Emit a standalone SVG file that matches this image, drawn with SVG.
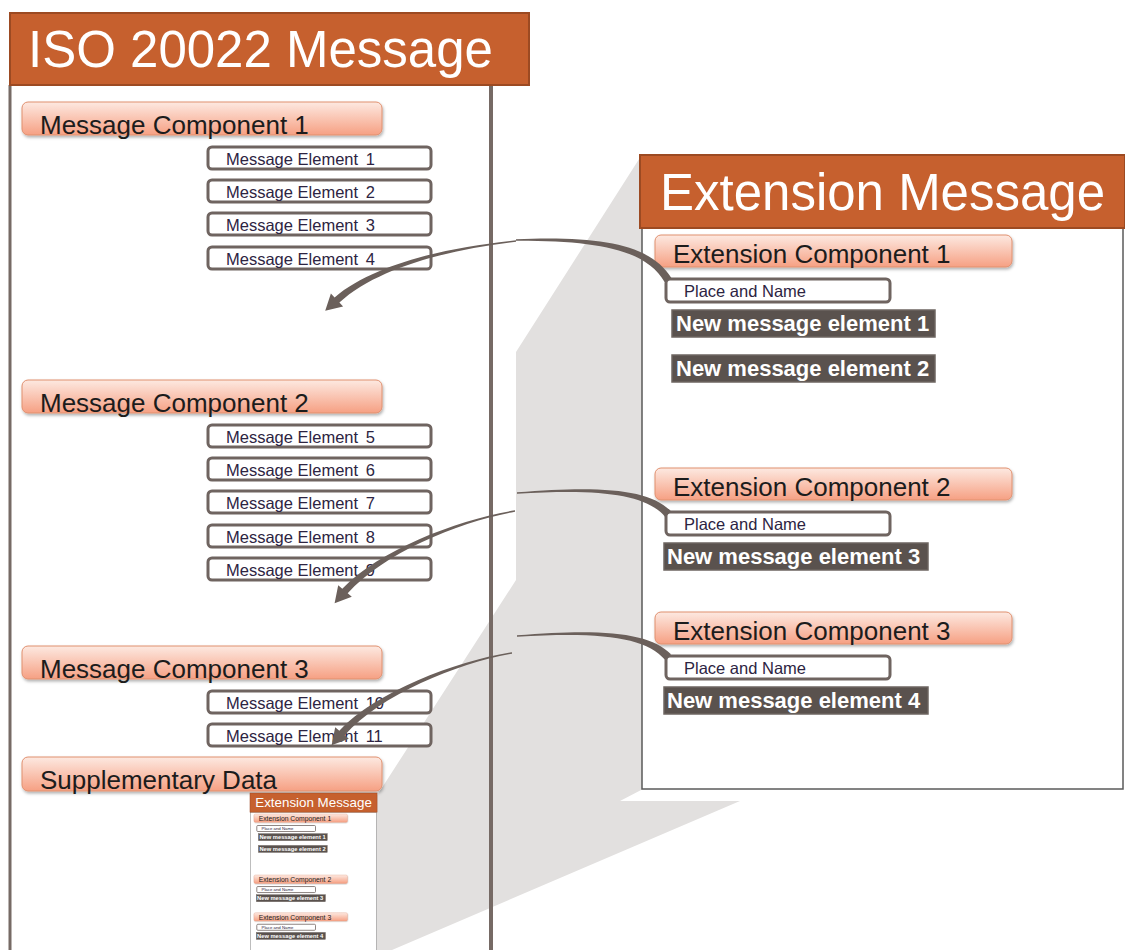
<svg xmlns="http://www.w3.org/2000/svg" xmlns:xlink="http://www.w3.org/1999/xlink" width="1125" height="950" viewBox="0 0 1125 950">
  <defs>
    <linearGradient id="compGrad" x1="0" y1="0" x2="0" y2="1">
      <stop offset="0" stop-color="#fde9e1"/>
      <stop offset="1" stop-color="#f6a083"/>
    </linearGradient>
    <filter id="shadow" x="-5%" y="-20%" width="110%" height="160%">
      <feDropShadow dx="1" dy="2" stdDeviation="1.5" flood-color="#000" flood-opacity="0.3"/>
    </filter>
    <style>
      .hdr { fill: #c6602e; stroke: #9c4a22; stroke-width: 2; }
      .hdrText { font-family: "Liberation Sans", Arial, sans-serif; font-size: 51px; fill: #ffffff; }
      .frame { stroke: #766a65; fill: none; }
      .comp { fill: url(#compGrad); stroke: #e0906f; stroke-width: 1; filter: url(#shadow); }
      .compText { font-family: "Liberation Sans", Arial, sans-serif; font-size: 26px; fill: #1c1c1c; }
      .elem { fill: #ffffff; stroke: #6f6460; stroke-width: 3; }
      .elemText { font-family: "Liberation Sans", Arial, sans-serif; font-size: 16.5px; fill: #2d2442; }
      .newElem { fill: #5a524e; stroke: #6e6661; stroke-width: 1.5; }
      .newText { font-family: "Liberation Sans", Arial, sans-serif; font-size: 22px; font-weight: bold; fill: #ffffff; }
      .body { fill: #ffffff; stroke: #5a5a5a; stroke-width: 1.5; }
      .conn { fill: #6b605b; }
      .wedge { fill: #e2e0df; }
    </style>
  </defs>

  <rect x="0" y="0" width="1125" height="950" fill="#ffffff"/>

  <!-- projection wedge -->
  <polygon class="wedge" points="641,156 516,352 516,580 376,797 376,950 392,950 740,801 620,801 643,789 643,156"/>

  <!-- ISO 20022 Message frame -->
  <g id="iso-message">
    <line class="frame" x1="10" y1="85" x2="10" y2="950" stroke-width="3"/>
    <line class="frame" x1="491" y1="85" x2="491" y2="950" stroke-width="4"/>
    <rect class="hdr" x="10" y="13" width="519" height="72"/>
    <text class="hdrText" x="28" y="67">ISO 20022 Message</text>
  </g>

  <g id="mc1">
    <rect class="comp" x="22" y="102" width="360" height="33" rx="6"/>
    <text class="compText" x="40" y="134">Message Component 1</text>
  </g>
  <g id="me1"><rect class="elem" x="208" y="147" width="223" height="22" rx="4"/><text class="elemText" x="226" y="165">Message Element <tspan dx="3">1</tspan></text></g>
  <g id="me2"><rect class="elem" x="208" y="180" width="223" height="22" rx="4"/><text class="elemText" x="226" y="198">Message Element <tspan dx="3">2</tspan></text></g>
  <g id="me3"><rect class="elem" x="208" y="213" width="223" height="22" rx="4"/><text class="elemText" x="226" y="231">Message Element <tspan dx="3">3</tspan></text></g>
  <g id="me4"><rect class="elem" x="208" y="247" width="223" height="22" rx="4"/><text class="elemText" x="226" y="265">Message Element <tspan dx="3">4</tspan></text></g>

  <g id="mc2">
    <rect class="comp" x="22" y="380" width="360" height="33" rx="6"/>
    <text class="compText" x="40" y="412">Message Component 2</text>
  </g>
  <g id="me5"><rect class="elem" x="208" y="425" width="223" height="22" rx="4"/><text class="elemText" x="226" y="443">Message Element <tspan dx="3">5</tspan></text></g>
  <g id="me6"><rect class="elem" x="208" y="458" width="223" height="22" rx="4"/><text class="elemText" x="226" y="476">Message Element <tspan dx="3">6</tspan></text></g>
  <g id="me7"><rect class="elem" x="208" y="491" width="223" height="22" rx="4"/><text class="elemText" x="226" y="509">Message Element <tspan dx="3">7</tspan></text></g>
  <g id="me8"><rect class="elem" x="208" y="525" width="223" height="22" rx="4"/><text class="elemText" x="226" y="543">Message Element <tspan dx="3">8</tspan></text></g>
  <g id="me9"><rect class="elem" x="208" y="558" width="223" height="22" rx="4"/><text class="elemText" x="226" y="576">Message Element <tspan dx="3">9</tspan></text></g>

  <g id="mc3">
    <rect class="comp" x="22" y="646" width="360" height="33" rx="6"/>
    <text class="compText" x="40" y="678">Message Component 3</text>
  </g>
  <g id="me10"><rect class="elem" x="208" y="691" width="223" height="22" rx="4"/><text class="elemText" x="226" y="709">Message Element <tspan dx="3">10</tspan></text></g>
  <g id="me11"><rect class="elem" x="208" y="724" width="223" height="22" rx="4"/><text class="elemText" x="226" y="742">Message Element <tspan dx="3">11</tspan></text></g>

  <g id="supp">
    <rect class="comp" x="22" y="757" width="360" height="34" rx="6"/>
    <text class="compText" x="40" y="789">Supplementary Data</text>
  </g>

  <!-- Extension Message -->
  <g id="ext-message">
    <rect class="body" x="642" y="228" width="481" height="561"/>
    <rect class="hdr" x="640" y="155" width="485" height="73"/>
    <text class="hdrText" x="660" y="210">Extension Message</text>
    <g id="ec1">
      <rect class="comp" x="655" y="235" width="357" height="32" rx="6"/>
      <text class="compText" x="673" y="263">Extension Component 1</text>
    </g>
    <g id="pn1"><rect class="elem" x="666" y="279" width="224" height="23" rx="4"/><text class="elemText" x="684" y="297">Place and Name</text></g>
    <g id="nme1"><rect class="newElem" x="672" y="310" width="263" height="27"/><text class="newText" x="676" y="331">New message element 1</text></g>
    <g id="nme2"><rect class="newElem" x="672" y="355" width="263" height="27"/><text class="newText" x="676" y="376">New message element 2</text></g>
    <g id="ec2">
      <rect class="comp" x="655" y="468" width="357" height="32" rx="6"/>
      <text class="compText" x="673" y="496">Extension Component 2</text>
    </g>
    <g id="pn2"><rect class="elem" x="666" y="512" width="224" height="23" rx="4"/><text class="elemText" x="684" y="530">Place and Name</text></g>
    <g id="nme3"><rect class="newElem" x="664" y="543" width="264" height="27"/><text class="newText" x="667" y="564">New message element 3</text></g>
    <g id="ec3">
      <rect class="comp" x="655" y="612" width="357" height="32" rx="6"/>
      <text class="compText" x="673" y="640">Extension Component 3</text>
    </g>
    <g id="pn3"><rect class="elem" x="666" y="656" width="224" height="23" rx="4"/><text class="elemText" x="684" y="674">Place and Name</text></g>
    <g id="nme4"><rect class="newElem" x="664" y="687" width="264" height="27"/><text class="newText" x="667" y="708">New message element 4</text></g>
  </g>

  <!-- thumbnail of Extension Message inside Supplementary Data -->
  <g id="supp-thumbnail">
    <use xlink:href="#ext-message" href="#ext-message" transform="translate(250,793) scale(0.262) translate(-640,-155)"/>
  </g>

  <!-- connectors -->
  <g id="connectors">
    <path class="conn" d="M516,239.3 C600,236 650,244 671.4,277.9 L664.6,282.1 C646,250 600,240.5 516,240.7 Z"/>
    <path class="conn" d="M516,240.3 C450,247 375,263 334.6,297.4 L330.9,293.4 L325.2,310.8 L343.1,306.6 L339.4,302.6 C378,267 452,249 516,241.7 Z"/>
    <path class="conn" d="M517,492.3 C600,485.5 650,489 671,511.3 L665,516.7 C646,494 600,488.5 517,493.7 Z"/>
    <path class="conn" d="M515,510.3 C460,519 380,549 342.3,588.7 L338.2,585.2 L334.6,603.2 L351.8,596.8 L347.7,593.3 C384,552 462,521 515,511.7 Z"/>
    <path class="conn" d="M517,635.3 C600,628.5 650,632 671,654.3 L665,659.7 C646,637 600,631.5 517,636.7 Z"/>
    <path class="conn" d="M512,652.3 C457,661 377,691 339.3,730.7 L335.2,727.2 L331.6,745.2 L348.8,738.8 L344.7,735.3 C381,694 459,663 512,653.7 Z"/>
  </g>
</svg>
